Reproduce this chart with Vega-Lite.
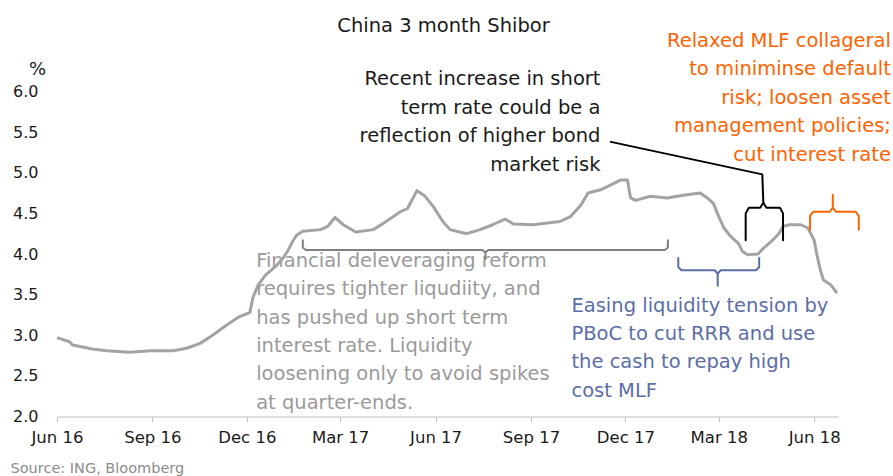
{
  "$schema": "https://vega.github.io/schema/vega-lite/v6.json",
  "autosize": {"type": "none"},
  "padding": {"left": 57, "top": 91.5, "right": 55, "bottom": 59.5},
  "width": 781,
  "height": 325,
  "background": "#ffffff",
  "config": {"view": {"stroke": null}, "font": "DejaVu Sans"},
  "title": {"text": "China 3 month Shibor", "fontSize": 19.5, "fontWeight": "normal", "color": "#1a1a1a", "font": "DejaVu Sans", "anchor": "middle", "offset": 0, "dy": 21, "baseline": "alphabetic", "dx": -4},
  "datasets": {
    "shibor": [
      {"date": "2016-06-01", "rate": 2.97},
      {"date": "2016-06-13", "rate": 2.92},
      {"date": "2016-06-16", "rate": 2.88},
      {"date": "2016-07-05", "rate": 2.83},
      {"date": "2016-07-19", "rate": 2.81},
      {"date": "2016-08-10", "rate": 2.79},
      {"date": "2016-08-30", "rate": 2.81},
      {"date": "2016-09-21", "rate": 2.81},
      {"date": "2016-10-04", "rate": 2.84},
      {"date": "2016-10-17", "rate": 2.90},
      {"date": "2016-10-29", "rate": 3.00},
      {"date": "2016-11-12", "rate": 3.13},
      {"date": "2016-11-24", "rate": 3.23},
      {"date": "2016-12-04", "rate": 3.28},
      {"date": "2016-12-07", "rate": 3.47},
      {"date": "2016-12-12", "rate": 3.62},
      {"date": "2016-12-19", "rate": 3.74},
      {"date": "2016-12-29", "rate": 3.85},
      {"date": "2017-01-05", "rate": 3.95},
      {"date": "2017-01-10", "rate": 4.05},
      {"date": "2017-01-14", "rate": 4.15},
      {"date": "2017-01-18", "rate": 4.23},
      {"date": "2017-01-24", "rate": 4.28},
      {"date": "2017-02-10", "rate": 4.30},
      {"date": "2017-02-17", "rate": 4.34},
      {"date": "2017-02-24", "rate": 4.45},
      {"date": "2017-03-04", "rate": 4.36},
      {"date": "2017-03-16", "rate": 4.27},
      {"date": "2017-04-02", "rate": 4.30},
      {"date": "2017-04-12", "rate": 4.38},
      {"date": "2017-04-28", "rate": 4.52},
      {"date": "2017-05-05", "rate": 4.56},
      {"date": "2017-05-14", "rate": 4.78},
      {"date": "2017-05-22", "rate": 4.71},
      {"date": "2017-05-30", "rate": 4.58},
      {"date": "2017-06-08", "rate": 4.40},
      {"date": "2017-06-15", "rate": 4.30},
      {"date": "2017-07-01", "rate": 4.25},
      {"date": "2017-07-14", "rate": 4.30},
      {"date": "2017-07-26", "rate": 4.36},
      {"date": "2017-08-07", "rate": 4.43},
      {"date": "2017-08-15", "rate": 4.37},
      {"date": "2017-09-03", "rate": 4.36},
      {"date": "2017-09-29", "rate": 4.40},
      {"date": "2017-10-09", "rate": 4.46},
      {"date": "2017-10-19", "rate": 4.60},
      {"date": "2017-10-26", "rate": 4.75},
      {"date": "2017-11-07", "rate": 4.79},
      {"date": "2017-11-20", "rate": 4.87},
      {"date": "2017-11-26", "rate": 4.91},
      {"date": "2017-12-03", "rate": 4.91},
      {"date": "2017-12-06", "rate": 4.69},
      {"date": "2017-12-11", "rate": 4.66},
      {"date": "2017-12-25", "rate": 4.71},
      {"date": "2018-01-10", "rate": 4.69},
      {"date": "2018-01-29", "rate": 4.73},
      {"date": "2018-02-11", "rate": 4.75},
      {"date": "2018-02-18", "rate": 4.69},
      {"date": "2018-02-24", "rate": 4.62},
      {"date": "2018-03-01", "rate": 4.46},
      {"date": "2018-03-06", "rate": 4.32},
      {"date": "2018-03-13", "rate": 4.21},
      {"date": "2018-03-20", "rate": 4.13},
      {"date": "2018-03-24", "rate": 4.03},
      {"date": "2018-03-29", "rate": 3.99},
      {"date": "2018-04-08", "rate": 4.00},
      {"date": "2018-04-13", "rate": 4.07},
      {"date": "2018-04-22", "rate": 4.17},
      {"date": "2018-04-28", "rate": 4.25},
      {"date": "2018-05-02", "rate": 4.34},
      {"date": "2018-05-08", "rate": 4.36},
      {"date": "2018-05-19", "rate": 4.36},
      {"date": "2018-05-26", "rate": 4.32},
      {"date": "2018-06-01", "rate": 4.17},
      {"date": "2018-06-04", "rate": 3.97},
      {"date": "2018-06-07", "rate": 3.80},
      {"date": "2018-06-10", "rate": 3.68},
      {"date": "2018-06-17", "rate": 3.62},
      {"date": "2018-06-23", "rate": 3.52}
    ],
    "brackets": [
      {"bracket": "deleveraging", "part": "g1", "i": 1, "date": "2017-01-24", "value": 4.17},
      {"bracket": "deleveraging", "part": "g1", "i": 2, "date": "2017-01-24", "value": 4.08},
      {"bracket": "deleveraging", "part": "g1", "i": 3, "date": "2017-01-27", "value": 4.05},
      {"bracket": "deleveraging", "part": "g1", "i": 4, "date": "2017-07-16", "value": 4.05},
      {"bracket": "deleveraging", "part": "g1", "i": 5, "date": "2017-07-19", "value": 4.02},
      {"bracket": "deleveraging", "part": "g1", "i": 6, "date": "2017-07-19", "value": 3.94},
      {"bracket": "deleveraging", "part": "g2", "i": 1, "date": "2018-01-11", "value": 4.17},
      {"bracket": "deleveraging", "part": "g2", "i": 2, "date": "2018-01-11", "value": 4.08},
      {"bracket": "deleveraging", "part": "g2", "i": 3, "date": "2018-01-08", "value": 4.05},
      {"bracket": "deleveraging", "part": "g2", "i": 4, "date": "2017-07-22", "value": 4.05},
      {"bracket": "deleveraging", "part": "g2", "i": 5, "date": "2017-07-19", "value": 4.02},
      {"bracket": "easing", "part": "b1", "i": 1, "date": "2018-01-21", "value": 3.95},
      {"bracket": "easing", "part": "b1", "i": 2, "date": "2018-01-21", "value": 3.84},
      {"bracket": "easing", "part": "b1", "i": 3, "date": "2018-01-24", "value": 3.80},
      {"bracket": "easing", "part": "b1", "i": 4, "date": "2018-02-25", "value": 3.80},
      {"bracket": "easing", "part": "b1", "i": 5, "date": "2018-02-28", "value": 3.76},
      {"bracket": "easing", "part": "b1", "i": 6, "date": "2018-02-28", "value": 3.61},
      {"bracket": "easing", "part": "b2", "i": 1, "date": "2018-04-09", "value": 3.95},
      {"bracket": "easing", "part": "b2", "i": 2, "date": "2018-04-09", "value": 3.84},
      {"bracket": "easing", "part": "b2", "i": 3, "date": "2018-04-06", "value": 3.80},
      {"bracket": "easing", "part": "b2", "i": 4, "date": "2018-03-03", "value": 3.80},
      {"bracket": "easing", "part": "b2", "i": 5, "date": "2018-02-28", "value": 3.76},
      {"bracket": "recent", "part": "k1", "i": 1, "date": "2018-03-27", "value": 4.17},
      {"bracket": "recent", "part": "k1", "i": 2, "date": "2018-03-27", "value": 4.50},
      {"bracket": "recent", "part": "k1", "i": 3, "date": "2018-03-30", "value": 4.57},
      {"bracket": "recent", "part": "k1", "i": 4, "date": "2018-04-10", "value": 4.57},
      {"bracket": "recent", "part": "k1", "i": 5, "date": "2018-04-13", "value": 4.63},
      {"bracket": "recent", "part": "k1", "i": 6, "date": "2018-04-12", "value": 4.98},
      {"bracket": "recent", "part": "k1", "i": 7, "date": "2017-11-17", "value": 5.38},
      {"bracket": "recent", "part": "k2", "i": 1, "date": "2018-05-02", "value": 4.17},
      {"bracket": "recent", "part": "k2", "i": 2, "date": "2018-05-02", "value": 4.50},
      {"bracket": "recent", "part": "k2", "i": 3, "date": "2018-04-29", "value": 4.57},
      {"bracket": "recent", "part": "k2", "i": 4, "date": "2018-04-16", "value": 4.57},
      {"bracket": "recent", "part": "k2", "i": 5, "date": "2018-04-13", "value": 4.63},
      {"bracket": "relaxed", "part": "o1", "i": 1, "date": "2018-05-28", "value": 4.30},
      {"bracket": "relaxed", "part": "o1", "i": 2, "date": "2018-05-28", "value": 4.47},
      {"bracket": "relaxed", "part": "o1", "i": 3, "date": "2018-05-31", "value": 4.52},
      {"bracket": "relaxed", "part": "o1", "i": 4, "date": "2018-06-16", "value": 4.52},
      {"bracket": "relaxed", "part": "o1", "i": 5, "date": "2018-06-19", "value": 4.57},
      {"bracket": "relaxed", "part": "o1", "i": 6, "date": "2018-06-19", "value": 4.73},
      {"bracket": "relaxed", "part": "o2", "i": 1, "date": "2018-07-14", "value": 4.30},
      {"bracket": "relaxed", "part": "o2", "i": 2, "date": "2018-07-14", "value": 4.47},
      {"bracket": "relaxed", "part": "o2", "i": 3, "date": "2018-07-11", "value": 4.52},
      {"bracket": "relaxed", "part": "o2", "i": 4, "date": "2018-06-22", "value": 4.52},
      {"bracket": "relaxed", "part": "o2", "i": 5, "date": "2018-06-19", "value": 4.57}
    ],
    "notes": [
      {"note": "deleveraging", "date": "2016-12-10", "value": 3.84, "label": "Financial deleveraging reform\nrequires tighter liqudiity, and\nhas pushed up short term\ninterest rate. Liquidity\nloosening only to avoid spikes\nat quarter-ends."},
      {"note": "easing", "date": "2017-10-10", "value": 3.29, "label": "Easing liquidity tension by\nPBoC to cut RRR and use\nthe cash to repay high\ncost MLF"},
      {"note": "recent", "date": "2017-11-07", "value": 6.08, "label": "Recent increase in short\nterm rate could be a\nreflection of higher bond\nmarket risk"},
      {"note": "relaxed", "date": "2018-08-14", "value": 6.55, "label": "Relaxed MLF collageral\nto miniminse default\nrisk; loosen asset\nmanagement policies;\ncut interest rate"}
    ]
  },
  "encoding": {
    "x": {
      "field": "date", "type": "temporal",
      "scale": {"type": "utc", "domain": [{"year": 2016, "month": 6, "date": 1, "utc": true}, {"year": 2018, "month": 6, "date": 24, "utc": true}]},
      "axis": {
        "title": "Source: ING, Bloomberg", "titleX": -47, "titleY": 55.5, "titleAlign": "left", "titleBaseline": "alphabetic", "titleAnchor": null,
        "titleFontSize": 14.5, "titleFontWeight": "normal", "titleColor": "#8c8c8c",
        "values": [
          {"year": 2016, "month": 6, "date": 1, "utc": true},
          {"year": 2016, "month": 9, "date": 1, "utc": true},
          {"year": 2016, "month": 12, "date": 1, "utc": true},
          {"year": 2017, "month": 3, "date": 1, "utc": true},
          {"year": 2017, "month": 6, "date": 1, "utc": true},
          {"year": 2017, "month": 9, "date": 1, "utc": true},
          {"year": 2017, "month": 12, "date": 1, "utc": true},
          {"year": 2018, "month": 3, "date": 1, "utc": true},
          {"year": 2018, "month": 6, "date": 1, "utc": true}
        ],
        "format": "%b %y", "grid": false, "domainColor": "#bfbfbf", "tickColor": "#bfbfbf", "tickSize": 5,
        "labelFontSize": 16.5, "labelColor": "#1a1a1a", "labelPadding": 8, "labelFlush": false, "labelOverlap": false
      }
    },
    "y": {
      "field": "value", "type": "quantitative",
      "scale": {"domain": [2, 6], "nice": false, "zero": false},
      "axis": {
        "title": "%", "titleAngle": 0, "titleX": -20, "titleY": -17, "titleAlign": "center", "titleBaseline": "alphabetic", "titleAnchor": null,
        "titleFontSize": 18, "titleFontWeight": "normal", "titleColor": "#1a1a1a",
        "values": [2, 2.5, 3, 3.5, 4, 4.5, 5, 5.5, 6], "format": ".1f",
        "domain": false, "ticks": false, "grid": false, "labelFontSize": 16, "labelColor": "#1a1a1a", "labelPadding": 19
      }
    }
  },
  "layer": [
    {
      "data": {"name": "notes"},
      "transform": [{"filter": "datum.note === 'deleveraging' || datum.note === 'easing'"}],
      "mark": {"type": "text", "align": "left", "baseline": "alphabetic", "lineBreak": "\n", "lineHeight": 28.3, "fontSize": 19.5, "font": "DejaVu Sans"},
      "encoding": {
        "text": {"field": "label"},
        "color": {"field": "note", "type": "nominal", "scale": {"domain": ["deleveraging", "easing", "recent", "relaxed"], "range": ["#9a9a9a", "#5b6ea6", "#1a1a1a", "#ff6200"]}, "legend": null}
      }
    },
    {
      "data": {"name": "notes"},
      "transform": [{"filter": "datum.note === 'recent' || datum.note === 'relaxed'"}],
      "mark": {"type": "text", "align": "right", "baseline": "alphabetic", "lineBreak": "\n", "lineHeight": 28.5, "fontSize": 19.5, "font": "DejaVu Sans"},
      "encoding": {
        "text": {"field": "label"},
        "color": {"field": "note", "type": "nominal", "scale": {"domain": ["deleveraging", "easing", "recent", "relaxed"], "range": ["#9a9a9a", "#5b6ea6", "#1a1a1a", "#ff6200"]}, "legend": null}
      }
    },
    {
      "data": {"name": "shibor"},
      "mark": {"type": "line", "color": "#a3a3a3", "strokeWidth": 3, "strokeJoin": "round"},
      "encoding": {"y": {"field": "rate", "type": "quantitative"}}
    },
    {
      "data": {"name": "brackets"},
      "mark": {"type": "line", "strokeWidth": 2, "strokeJoin": "round", "strokeCap": "round"},
      "encoding": {
        "detail": {"field": "part"},
        "order": {"field": "i", "type": "quantitative"},
        "color": {"field": "bracket", "type": "nominal", "scale": {"domain": ["deleveraging", "easing", "recent", "relaxed"], "range": ["#7f7f7f", "#5b6ea6", "#000000", "#ff6200"]}, "legend": null}
      }
    }
  ],
  "resolve": {"scale": {"color": "independent"}}
}
